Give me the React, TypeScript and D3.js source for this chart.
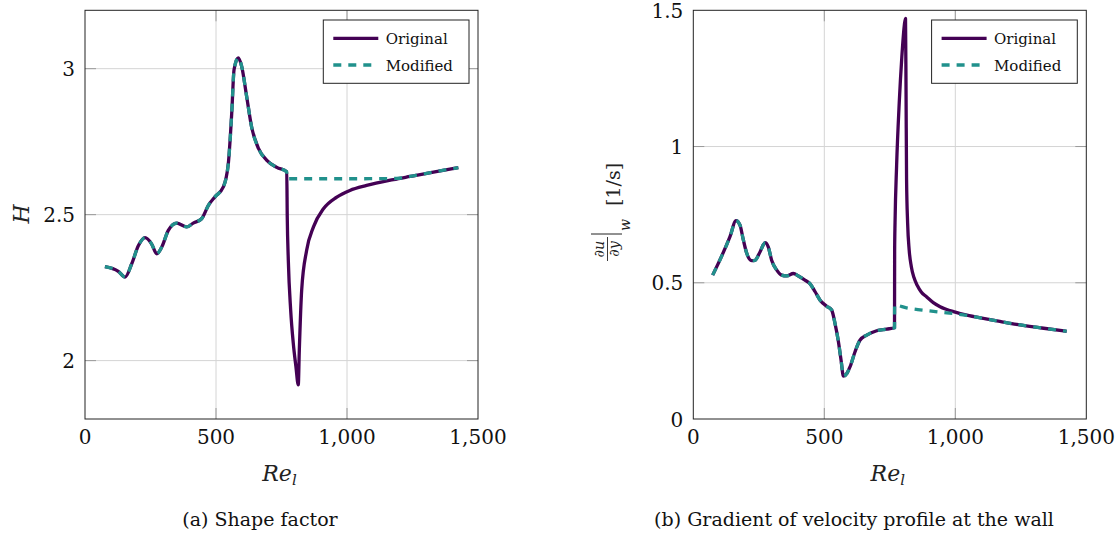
import React from "react";
import * as d3 from "d3";

// ---------- Data ----------
// Panel (a): shape factor H vs Re_l
const hCommonRe = [76, 127, 153, 178, 204, 229, 254, 274, 293, 318, 350, 388, 413, 445, 471, 496, 528, 547, 560, 569, 585, 598, 617, 636, 662, 693, 732, 770];
const hCommonVal = [2.322, 2.306, 2.286, 2.331, 2.394, 2.421, 2.4, 2.366, 2.389, 2.446, 2.471, 2.458, 2.471, 2.486, 2.532, 2.561, 2.595, 2.675, 2.847, 2.997, 3.037, 3.008, 2.905, 2.8, 2.727, 2.687, 2.662, 2.647];
const hOrigTailRe = [772, 776, 785, 795, 805, 814, 818, 827, 846, 872, 910, 961, 1011, 1075, 1177, 1241, 1330, 1425];
const hOrigTailVal = [2.49, 2.344, 2.173, 2.059, 1.98, 1.917, 2.036, 2.241, 2.378, 2.458, 2.52, 2.56, 2.583, 2.6, 2.62, 2.631, 2.646, 2.661];
const hModTailRe = [771, 900, 1050, 1190, 1241, 1330, 1425];
const hModTailVal = [2.623, 2.623, 2.623, 2.624, 2.631, 2.646, 2.661];

// Panel (b): wall gradient vs Re_l
const gCommonRe = [74, 140, 163, 178, 191, 204, 223, 235, 255, 274, 286, 299, 318, 337, 356, 382, 401, 426, 445, 465, 484, 509, 528, 541, 553, 564, 573, 586, 598, 617, 636, 662, 700, 738, 768];
const gCommonVal = [0.528, 0.669, 0.728, 0.712, 0.657, 0.608, 0.581, 0.582, 0.614, 0.647, 0.632, 0.583, 0.547, 0.528, 0.525, 0.534, 0.525, 0.51, 0.497, 0.467, 0.436, 0.414, 0.4, 0.35, 0.289, 0.216, 0.157, 0.167, 0.191, 0.246, 0.289, 0.308, 0.324, 0.33, 0.335];
const gOrigTailRe = [768.5, 770, 776, 786, 796, 806, 810, 812, 814, 818, 824, 832, 842, 855, 870, 891, 916, 942, 1000, 1044, 1107, 1170, 1234, 1330, 1425];
const gOrigTailVal = [0.62, 0.72, 0.93, 1.16, 1.33, 1.45, 1.47, 1.2, 0.88, 0.72, 0.62, 0.56, 0.52, 0.49, 0.466, 0.448, 0.427, 0.412, 0.392, 0.381, 0.369, 0.358, 0.347, 0.334, 0.322];
const gModTailRe = [768.5, 814, 900, 942, 1000, 1044, 1107, 1170, 1234, 1330, 1425];
const gModTailVal = [0.418, 0.408, 0.397, 0.392, 0.386, 0.38, 0.369, 0.358, 0.347, 0.334, 0.322];

const xTicks = [0, 500, 1000, 1500];
const xTickLabels = ["0", "500", "1,000", "1,500"];
const hTicks = [2, 2.5, 3];
const hTickLabels = ["2", "2.5", "3"];
const gTicks = [0, 0.5, 1, 1.5];
const gTickLabels = ["0", "0.5", "1", "1.5"];
const seriesNames = ["Original", "Modified"];

const PURPLE = "#440154";
const TEAL = "#21918c";
const FONT = "'DejaVu Serif', serif";

type Pt = [number, number];
const zip = (xs: number[], ys: number[]): Pt[] => xs.map((x, i) => [x, ys[i]]);

interface PanelProps {
  left: number;
  yDomain: [number, number];
  yTicks: number[];
  yTickLabels: string[];
  orig: Pt[];
  mod: Pt[];
  caption: string;
  captionX: number;
}

const TOP = 10.3;
const BOTTOM = 419;
const PW = 393;

function Panel({ left, yDomain, yTicks, yTickLabels, orig, mod, caption, captionX }: PanelProps) {
  const x = d3.scaleLinear().domain([0, 1500]).range([left, left + PW]);
  const y = d3.scaleLinear().domain(yDomain).range([BOTTOM, TOP]);
  const line = d3
    .line<Pt>()
    .x((d) => x(d[0]))
    .y((d) => y(d[1]))
    .curve(d3.curveMonotoneX);
  const right = left + PW;
  const tickLen = 11;
  const legX = right - 154.7;
  return (
    <g>
      {/* grid */}
      {xTicks.slice(1, -1).map((t) => (
        <line key={"gx" + t} x1={x(t)} x2={x(t)} y1={TOP} y2={BOTTOM} stroke="#d4d4d4" strokeWidth={1} />
      ))}
      {yTicks
        .filter((t) => t > yDomain[0] && t < yDomain[1])
        .map((t) => (
          <line key={"gy" + t} x1={left} x2={right} y1={y(t)} y2={y(t)} stroke="#d4d4d4" strokeWidth={1} />
        ))}
      {/* tick marks */}
      {xTicks.slice(1, -1).map((t) => (
        <g key={"tx" + t} stroke="#9a9a9a" strokeWidth={1}>
          <line x1={x(t)} x2={x(t)} y1={BOTTOM} y2={BOTTOM - tickLen} />
          <line x1={x(t)} x2={x(t)} y1={TOP} y2={TOP + tickLen} />
        </g>
      ))}
      {yTicks
        .filter((t) => t > yDomain[0] && t < yDomain[1])
        .map((t) => (
          <g key={"ty" + t} stroke="#9a9a9a" strokeWidth={1}>
            <line x1={left} x2={left + tickLen} y1={y(t)} y2={y(t)} />
            <line x1={right} x2={right - tickLen} y1={y(t)} y2={y(t)} />
          </g>
        ))}
      {/* curves */}
      <path d={line(orig) || ""} fill="none" stroke={PURPLE} strokeWidth={3.3} strokeLinejoin="round" />
      <path d={line(mod) || ""} fill="none" stroke={TEAL} strokeWidth={3.3} strokeDasharray="8 7" />
      {/* frame */}
      <rect x={left} y={TOP} width={PW} height={BOTTOM - TOP} fill="none" stroke="#222" strokeWidth={1} />
      {/* tick labels */}
      {xTicks.map((t, i) => (
        <text key={"lx" + t} x={x(t)} y={444} textAnchor="middle" fontFamily={FONT} fontSize={20} fill="#111">
          {xTickLabels[i]}
        </text>
      ))}
      {yTicks.map((t, i) => (
        <text key={"ly" + t} x={left - 10} y={y(t) + 7.5} textAnchor="end" fontFamily={FONT} fontSize={20} fill="#111">
          {yTickLabels[i]}
        </text>
      ))}
      {/* x label */}
      <text x={left + PW / 2 - 2} y={481} textAnchor="middle" fontFamily={FONT} fontSize={22} fontStyle="italic" fill="#222">
        Re<tspan fontSize={15} dy={4}>l</tspan>
      </text>
      {/* legend */}
      <rect x={legX} y={20} width={145.7} height={63.3} fill="white" stroke="#222" strokeWidth={1} />
      <line x1={legX + 10} x2={legX + 55} y1={38.3} y2={38.3} stroke={PURPLE} strokeWidth={3.3} />
      <line x1={legX + 10} x2={legX + 55} y1={65} y2={65} stroke={TEAL} strokeWidth={3.3} strokeDasharray="8 7" />
      <text x={legX + 62.4} y={43.8} fontFamily={FONT} fontSize={15} fill="#111">
        {seriesNames[0]}
      </text>
      <text x={legX + 62.4} y={70.5} fontFamily={FONT} fontSize={15} fill="#111">
        {seriesNames[1]}
      </text>
      {/* caption */}
      <text x={captionX} y={526} textAnchor="middle" fontFamily={FONT} fontSize={19} fill="#111">
        {caption}
      </text>
    </g>
  );
}

export default function App() {
  const hOrig = zip(hCommonRe, hCommonVal).concat(zip(hOrigTailRe, hOrigTailVal));
  const hMod = zip(hCommonRe, hCommonVal).concat(zip(hModTailRe, hModTailVal));
  const gOrig = zip(gCommonRe, gCommonVal).concat(zip(gOrigTailRe, gOrigTailVal));
  const gMod = zip(gCommonRe, gCommonVal).concat(zip(gModTailRe, gModTailVal));
  return (
    <svg
      width={1119}
      height={540}
      viewBox="0 0 1119 540"
      style={{ position: "absolute", left: 0, top: 0, background: "white" }}
    >
      <rect x={0} y={0} width={1119} height={540} fill="white" />
      <Panel
        left={85}
        yDomain={[1.8, 3.2]}
        yTicks={hTicks}
        yTickLabels={hTickLabels}
        orig={hOrig}
        mod={hMod}
        caption="(a) Shape factor"
        captionX={260}
      />
      <Panel
        left={693.3}
        yDomain={[0, 1.5]}
        yTicks={gTicks}
        yTickLabels={gTickLabels}
        orig={gOrig}
        mod={gMod}
        caption="(b) Gradient of velocity profile at the wall"
        captionX={854}
      />
      {/* y label (a) */}
      <text
        transform="translate(29,214) rotate(-90)"
        textAnchor="middle"
        fontFamily={FONT}
        fontSize={22}
        fontStyle="italic"
        fill="#222"
      >
        H
      </text>
      {/* y label (b) */}
      <g transform="translate(621,214) rotate(-90)" fontFamily={FONT} fill="#222">
        <text x={-35} y={-17} textAnchor="middle" fontSize={14.5} fontStyle="italic">∂u</text>
        <line x1={-47} x2={-23} y1={-13.5} y2={-13.5} stroke="#222" strokeWidth={0.9} />
        <text x={-35} y={-2.5} textAnchor="middle" fontSize={14.5} fontStyle="italic">∂y</text>
        <line x1={-20} x2={-20} y1={-30} y2={1} stroke="#222" strokeWidth={1} />
        <text x={-17} y={9} fontSize={14} fontStyle="italic">w</text>
        <text x={8} y={-1} fontSize={19}>[1/s]</text>
      </g>
    </svg>
  );
}
